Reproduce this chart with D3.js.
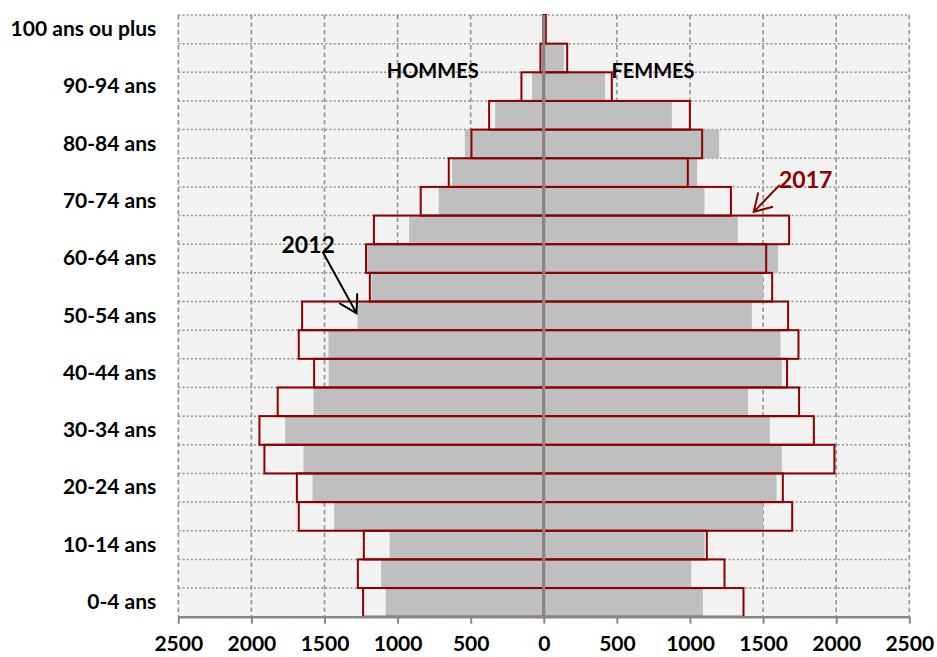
<!DOCTYPE html>
<html>
<head>
<meta charset="utf-8">
<script src="https://cdnjs.cloudflare.com/ajax/libs/d3/7.8.5/d3.min.js"></script>
<style>
  body { margin: 0; background: #ffffff; }
  text { font-family: Lato, "Open Sans", sans-serif; font-weight: bold; }
</style>
</head>
<body>
<div id="pyramide"></div>
<script>
// classes d'age, du bas vers le haut
var ages = ["0-4 ans", "5-9 ans", "10-14 ans", "15-19 ans", "20-24 ans", "25-29 ans",
  "30-34 ans", "35-39 ans", "40-44 ans", "45-49 ans", "50-54 ans", "55-59 ans",
  "60-64 ans", "65-69 ans", "70-74 ans", "75-79 ans", "80-84 ans", "85-89 ans",
  "90-94 ans", "95-99 ans", "100 ans ou plus"];

var hommes2012 = [1081, 1113, 1055, 1434, 1582, 1644, 1769, 1575, 1471, 1473, 1274,
  1179, 1208, 921, 719, 627, 540, 333, 80, 12, 2];
var femmes2012 = [1088, 1008, 1099, 1500, 1592, 1628, 1546, 1397, 1628, 1619, 1423,
  1500, 1603, 1327, 1099, 1049, 1199, 876, 419, 137, 8];
var hommes2017 = [1236, 1272, 1231, 1676, 1689, 1911, 1945, 1820, 1571, 1676, 1653,
  1190, 1216, 1162, 842, 650, 495, 374, 153, 23, 3];
var femmes2017 = [1366, 1236, 1115, 1699, 1635, 1988, 1847, 1746, 1664, 1742, 1671,
  1562, 1521, 1678, 1280, 985, 1083, 999, 465, 160, 14];

var xTicks = [-2500, -2000, -1500, -1000, -500, 0, 500, 1000, 1500, 2000, 2500];

function Pyramide() {
  var width = 937;
  var height = 657;
  var margin = {top: 15, right: 27.7, bottom: 40.3, left: 178.3};
  var grayColor = "#bfbfbf";
  var redColor = "#8b0000";
  var gridColor = "#939393";

  function chart(selection) {
    var svg = selection.append("svg")
      .attr("width", width)
      .attr("height", height);

    var chartWidth = width - margin.left - margin.right;
    var chartHeight = height - margin.top - margin.bottom;

    var x = d3.scaleLinear()
      .domain([-2500, 2500])
      .range([0, chartWidth]);

    var y = d3.scaleBand()
      .domain(ages)
      .range([chartHeight, 0])
      .padding(0);

    var bw = y.bandwidth();
    // position verticale en nombre de classes depuis le bas
    function yRow(r) { return chartHeight - r * bw; }

    var viz = svg.append("g")
      .attr("transform", "translate(" + margin.left + "," + margin.top + ")");

    // fond de la zone de tracé
    viz.append("rect")
      .attr("width", chartWidth)
      .attr("height", chartHeight)
      .attr("fill", "#f2f2f2");

    // lignes horizontales pointillées aux bords des classes
    viz.append("g").selectAll("line")
      .data(ages.slice(1).concat(["top"]))
      .enter().append("line")
      .attr("x1", 0)
      .attr("x2", chartWidth)
      .attr("y1", function (d) { return d === "top" ? 0 : y(d) + bw; })
      .attr("y2", function (d) { return d === "top" ? 0 : y(d) + bw; })
      .attr("stroke", gridColor)
      .attr("stroke-width", 1.5)
      .attr("stroke-dasharray", "2,2.2");

    // lignes verticales tiretées
    viz.append("g").selectAll("line")
      .data(xTicks.filter(function (t) { return t !== 0; }))
      .enter().append("line")
      .attr("x1", function (d) { return x(d); })
      .attr("x2", function (d) { return x(d); })
      .attr("y1", 0)
      .attr("y2", chartHeight)
      .attr("stroke", gridColor)
      .attr("stroke-width", 1.6)
      .attr("stroke-dasharray", "4.5,3");

    var rows = ages.map(function (a, i) {
      return {age: a, h12: hommes2012[i], f12: femmes2012[i], h17: hommes2017[i], f17: femmes2017[i]};
    });

    // 2012 : barres grises
    viz.append("g").selectAll("rect")
      .data(rows)
      .enter().append("rect")
      .attr("x", function (d) { return x(-d.h12); })
      .attr("y", function (d) { return y(d.age); })
      .attr("width", function (d) { return x(0) - x(-d.h12); })
      .attr("height", bw)
      .attr("fill", grayColor);

    viz.append("g").selectAll("rect")
      .data(rows)
      .enter().append("rect")
      .attr("x", x(0))
      .attr("y", function (d) { return y(d.age); })
      .attr("width", function (d) { return x(d.f12) - x(0); })
      .attr("height", bw)
      .attr("fill", grayColor);

    // 2017 : contours rouges
    viz.append("g").selectAll("rect")
      .data(rows)
      .enter().append("rect")
      .attr("x", function (d) { return x(-d.h17); })
      .attr("y", function (d) { return y(d.age); })
      .attr("width", function (d) { return x(0) - x(-d.h17); })
      .attr("height", bw)
      .attr("fill", "none")
      .attr("stroke", redColor)
      .attr("stroke-width", 2);

    viz.append("g").selectAll("rect")
      .data(rows)
      .enter().append("rect")
      .attr("x", x(0))
      .attr("y", function (d) { return y(d.age); })
      .attr("width", function (d) { return x(d.f17) - x(0); })
      .attr("height", bw)
      .attr("fill", "none")
      .attr("stroke", redColor)
      .attr("stroke-width", 2);

    // axe central
    viz.append("line")
      .attr("x1", x(0))
      .attr("x2", x(0))
      .attr("y1", 0)
      .attr("y2", chartHeight)
      .attr("stroke", "#878787")
      .attr("stroke-width", 3);

    // axe des x
    var xAxis = d3.axisBottom(x)
      .tickValues(xTicks)
      .tickFormat(function (d) { return Math.abs(d); })
      .tickSize(7)
      .tickSizeOuter(0)
      .tickPadding(12);

    var xaxis = viz.append("g")
      .attr("transform", "translate(0," + chartHeight + ")")
      .call(xAxis);
    xaxis.select(".domain").attr("stroke", "#878787").attr("stroke-width", 2.5);
    xaxis.selectAll(".tick line").attr("stroke", "#878787").attr("stroke-width", 2);
    xaxis.selectAll(".tick text")
      .attr("font-size", "21px")
      .attr("font-family", "Lato, sans-serif")
      .attr("font-weight", "bold")
      .attr("fill", "#000");

    // axe des y, une classe sur deux
    var yAxis = d3.axisLeft(y)
      .tickValues(ages.filter(function (a, i) { return i % 2 === 0; }))
      .tickSize(0)
      .tickPadding(22);

    var yaxis = viz.append("g").call(yAxis);
    yaxis.select(".domain").remove();
    yaxis.selectAll(".tick text")
      .attr("font-size", "21px")
      .attr("font-family", "Lato, sans-serif")
      .attr("font-weight", "bold")
      .attr("fill", "#000");

    // libellés
    viz.append("text")
      .attr("x", x(-1074))
      .attr("y", yRow(18.8))
      .attr("font-size", "20px")
      .attr("fill", "#000")
      .text("HOMMES");

    viz.append("text")
      .attr("x", x(463))
      .attr("y", yRow(18.8))
      .attr("font-size", "20px")
      .attr("fill", "#000")
      .text("FEMMES");

    viz.append("text")
      .attr("x", x(-1794))
      .attr("y", yRow(12.68))
      .attr("font-size", "23px")
      .attr("fill", "#000")
      .text("2012");

    viz.append("text")
      .attr("x", x(1609))
      .attr("y", yRow(14.95))
      .attr("font-size", "23px")
      .attr("fill", redColor)
      .text("2017");

    drawArrow(viz, x(-1512), yRow(12.73), x(-1281), yRow(10.59), "#000");
    drawArrow(viz, x(1614), yRow(15.07), x(1436), yRow(14.13), redColor);
  }

  // fleche à pointe ouverte
  function drawArrow(g, x1, y1, x2, y2, color) {
    var a = Math.atan2(y1 - y2, x1 - x2);
    var len = 20, spread = 31 * Math.PI / 180;
    var path = "M" + x1 + "," + y1 + "L" + x2 + "," + y2 +
      "M" + (x2 + len * Math.cos(a + spread)) + "," + (y2 + len * Math.sin(a + spread)) +
      "L" + x2 + "," + y2 +
      "L" + (x2 + len * Math.cos(a - spread)) + "," + (y2 + len * Math.sin(a - spread));
    g.append("path")
      .attr("d", path)
      .attr("fill", "none")
      .attr("stroke", color)
      .attr("stroke-width", 2);
  }

  return chart;
}

d3.select("#pyramide").call(Pyramide());
</script>
</body>
</html>
